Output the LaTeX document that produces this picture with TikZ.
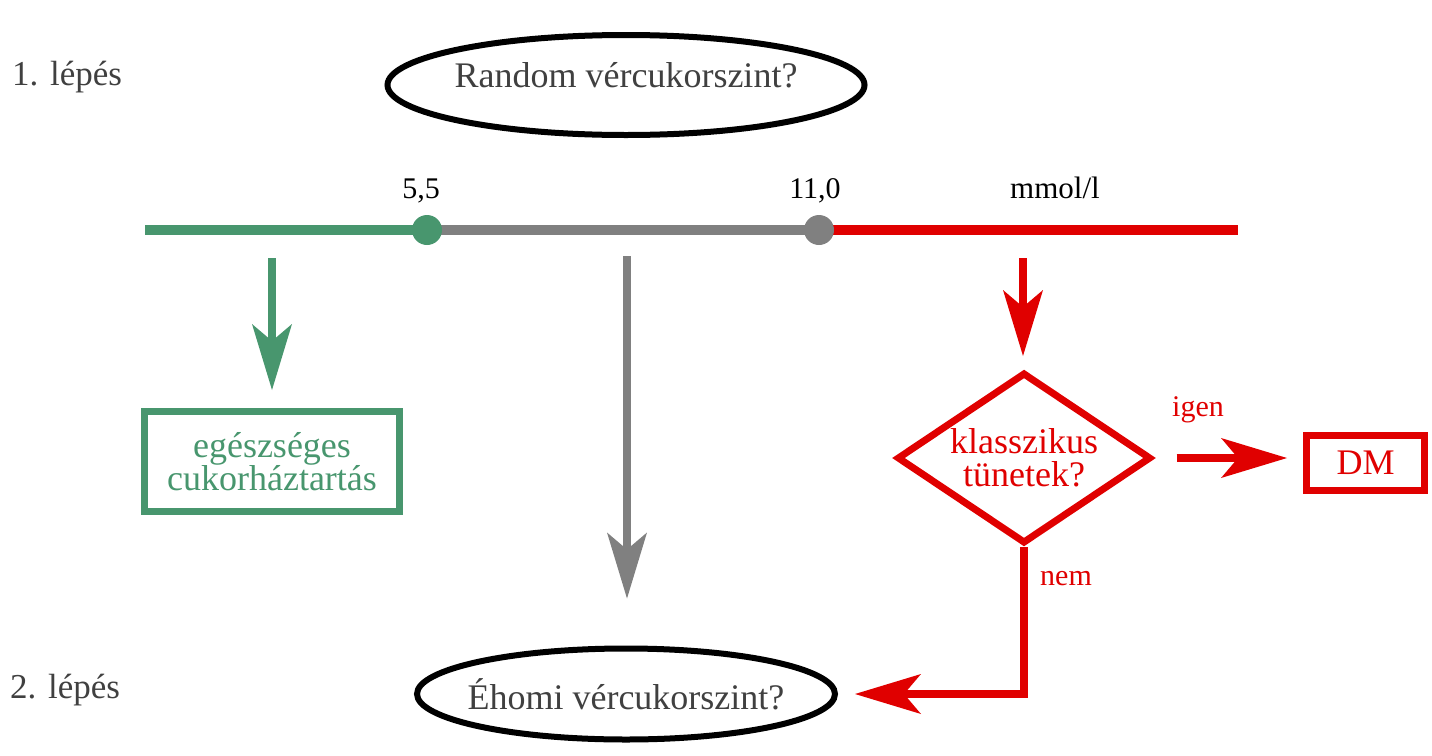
\documentclass[tikz,border=0pt]{standalone}
\usepackage{fontspec}
\setmainfont{Liberation Serif}
\usetikzlibrary{arrows.meta}
\usetikzlibrary{shapes.geometric}
\definecolor{okgreen}{RGB}{72,150,110}
\definecolor{midgray}{RGB}{128,128,128}
\definecolor{alarm}{RGB}{224,0,0}
\definecolor{inkgray}{RGB}{64,64,64}
\tikzset{bigtext/.style={font=\fontsize{36}{33}\selectfont}}
\tikzset{question/.style={draw=black,ellipse,line width=6pt,inner sep=0pt,
                          text=inkgray,bigtext}}
\tikzset{result/.style={draw,rectangle,line width=7pt,inner sep=0pt,
                        bigtext,align=center}}
\tikzset{flow/.style={line width=8pt,
                      -{Stealth[length=66pt,width=40pt,inset=17pt,line width=0pt]}}}
\def\stepfont{\fontsize{35}{40}\selectfont}

\begin{document}
\begin{tikzpicture}[x=1pt,y=-1pt]
    \tikzstyle{tick}=[circle,minimum size=30pt,inner sep=0pt]
    \tikzstyle{steplabel}=[anchor=base west,inner sep=0pt,text=inkgray,font=\stepfont]
    \tikzstyle{scalelabel}=[anchor=base,inner sep=0pt,font=\fontsize{30}{30}\selectfont]
    \tikzstyle{answer}=[inner sep=0pt,text=alarm,font=\fontsize{30}{30}\selectfont]
    \useasboundingbox (0,0) rectangle (1432,755);

    % Steps
    \node[steplabel] (step1) at (12,85) {1. lépés};
    \node[steplabel] (step2) at (10,698) {2. lépés};
    \node[question,minimum width=477pt,minimum height=100pt] (random) at (626,85)
        {\makebox[0pt]{\raisebox{-2pt}[0pt][0pt]{Random vércukorszint?}}};
    \node[question,minimum width=418pt,minimum height=91pt] (fasting) at (626,694)
        {\makebox[0pt]{Éhomi vércukorszint?}};

    % Scale
    \coordinate (lo) at (145,230);
    \coordinate (hi) at (1238,230);
    \coordinate (p55) at (427,230);
    \coordinate (p110) at (819,230);
    \draw[line width=10pt,midgray] (p55) -- (p110);
    \draw[line width=10pt,okgreen] (lo) -- (p55);
    \draw[line width=10pt,alarm] (p110) -- (hi);
    \node[tick,fill=okgreen] (t55) at (p55) {};
    \node[tick,fill=midgray] (t110) at (p110) {};
    \node[scalelabel] (l55) at (421,198) {5,5};
    \node[scalelabel] (l110) at (815,198) {11,0};
    \node[scalelabel,font=\fontsize{31}{31}\selectfont] (unit) at (1055,198) {mmol/l};

    % Outcomes
    \node[result,draw=okgreen,text=okgreen,minimum width=255pt,minimum height=100pt]
        (healthy) at (272,461.5) {egészséges\\cukorháztartás};
    \node[diamond,draw=alarm,line width=7pt,text=alarm,bigtext,align=center,
          inner sep=0pt,aspect=1.45,minimum width=254pt,minimum height=171pt]
        (symptoms) at (1024,458) {klasszikus\\tünetek?};
    \node[result,draw=alarm,text=alarm,minimum width=118pt,minimum height=55pt]
        (dm) at (1365.5,463) {DM};

    % Arrows
    \coordinate (gstart) at (272,258);
    \coordinate (mstart) at (627,256);
    \coordinate (rstart) at (1023,258);
    \draw[flow,okgreen,shorten >=18pt] (gstart) -- (gstart |- healthy.north);
    \draw[flow,midgray,shorten >=47pt] (mstart) -- (mstart |- fasting.north);
    \draw[flow,alarm,shorten >=13pt] (rstart) -- (rstart |- symptoms.north);
    \draw[flow,alarm,shorten <=22pt,shorten >=16pt] (symptoms.east) -- (symptoms.east -| dm.west);
    \draw[flow,alarm,shorten >=17pt] (symptoms.south) |- (fasting.east);

    % Labels
    \node[answer,anchor=base] (yes) at (1198,416) {igen};
    \node[answer,anchor=base west] (no) at (1040,585) {nem};
\end{tikzpicture}
\end{document}
